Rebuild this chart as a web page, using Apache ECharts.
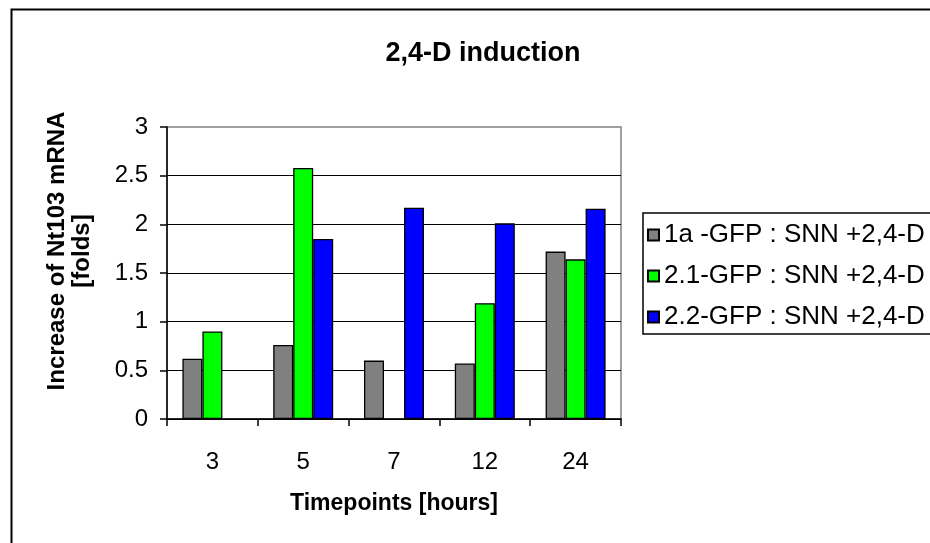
<!DOCTYPE html>
<html>
<head>
<meta charset="utf-8">
<script src="https://cdn.jsdelivr.net/npm/echarts@6/dist/echarts.min.js"></script>
<style>html,body{margin:0;padding:0;background:#fff}#c{width:930px;height:543px}</style>
</head>
<body>
<div id="c"></div>
<script>
const categories = ['3', '5', '7', '12', '24'];
const s1a = [0.62, 0.76, 0.60, 0.57, 1.72];
const s21 = [0.90, 2.58, null, 1.19, 1.64];
const s22 = [null, 1.85, 2.17, 2.01, 2.16];
const seriesNames = ['1a -GFP : SNN +2,4-D', '2.1-GFP : SNN +2,4-D', '2.2-GFP : SNN +2,4-D'];
const colors = ['#808080', '#00FF00', '#0000FF'];
const titleText = '2,4-D induction';
const xName = 'Timepoints [hours]';
const yName = 'Increase of Nt103 mRNA\n[folds]';

const font = '"Liberation Sans", Arial, sans-serif';
const chart = echarts.init(document.getElementById('c'));
const mk = (name, data, i) => ({
  name, type: 'bar', data,
  barWidth: 20, barGap: '0%',
  itemStyle: { color: colors[i], borderColor: '#000', borderWidth: 1.3 },
  emphasis: { disabled: true }
});
chart.setOption({
  animation: false,
  title: {
    text: titleText, left: 478, top: 35, textAlign: 'center',
    textStyle: { fontFamily: font, fontSize: 27, fontWeight: 'bold', color: '#000' }
  },
  graphic: [{
    type: 'rect', shape: { x: 11.5, y: 9.5, width: 1000, height: 700 },
    style: { fill: 'none', stroke: '#000', lineWidth: 2 }, z: 100
  }],
  grid: {
    left: 167, right: 309, top: 127, bottom: 124,
    show: true, borderColor: '#808080', borderWidth: 1.5, backgroundColor: '#fff'
  },
  legend: {
    orient: 'vertical', left: 643, top: 213,
    padding: [8, 30, 3, 4], itemGap: 13,
    itemWidth: 11, itemHeight: 11, icon: 'rect',
    backgroundColor: '#fff', borderColor: '#000', borderWidth: 1.5,
    textStyle: { fontFamily: font, fontSize: 26, color: '#000', lineHeight: 28 },
    data: seriesNames
  },
  xAxis: {
    type: 'category', data: categories,
    axisLine: { lineStyle: { color: '#000', width: 1.5 } },
    axisTick: { show: true, length: 7, lineStyle: { color: '#000', width: 1.5 } },
    axisLabel: { fontFamily: font, fontSize: 24, color: '#000', margin: 31 },
    name: xName, nameLocation: 'middle', nameGap: 73,
    nameTextStyle: { fontFamily: font, fontSize: 23, fontWeight: 'bold', color: '#000' }
  },
  yAxis: {
    type: 'value', min: 0, max: 3, interval: 0.5,
    axisLine: { show: true, lineStyle: { color: '#000', width: 1.5 } },
    axisTick: { show: true, length: 7, lineStyle: { color: '#000', width: 1.5 } },
    axisLabel: { fontFamily: font, fontSize: 24, color: '#000', margin: 19 },
    splitLine: { show: true, showMaxLine: false, lineStyle: { color: '#000', width: 1.2 } },
    name: yName, nameLocation: 'middle', nameGap: 72, nameRotate: 90,
    nameTextStyle: { fontFamily: font, fontSize: 24, fontWeight: 'bold', color: '#000', lineHeight: 25, align: 'center', padding: [0, 0, 0, 44] }
  },
  series: [mk(seriesNames[0], s1a, 0), mk(seriesNames[1], s21, 1), mk(seriesNames[2], s22, 2)]
});
</script>
</body>
</html>
